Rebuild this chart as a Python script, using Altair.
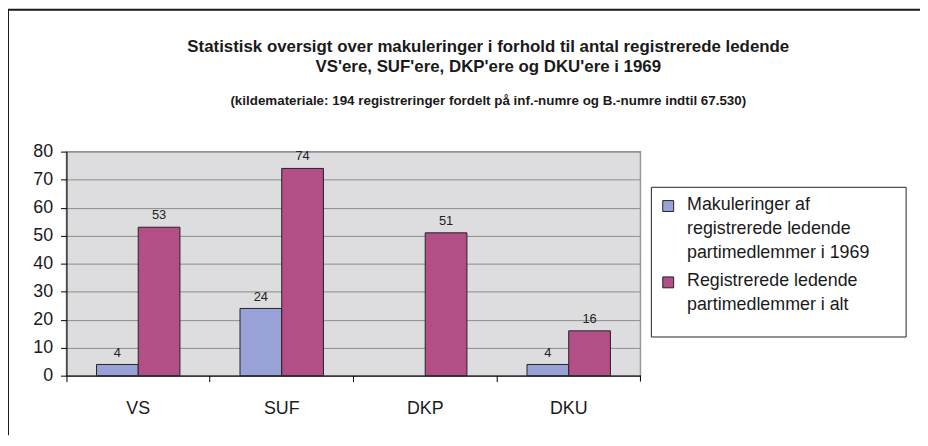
import altair as alt
import pandas as pd

categories = ["VS", "SUF", "DKP", "DKU"]
series_names = [
    "Makuleringer af|registrerede ledende|partimedlemmer i 1969",
    "Registrerede ledende|partimedlemmer i alt",
]
makuleringer = [4, 24, 0, 4]
registrerede = [53, 74, 51, 16]
colors = ["#98A2D6", "#B34F86"]
y_ticks = [0, 10, 20, 30, 40, 50, 60, 70, 80]

rows = []
for c, a, b in zip(categories, makuleringer, registrerede):
    rows.append({"kategori": c, "serie": series_names[0], "antal": a,
                 "label": str(a) if a > 0 else ""})
    rows.append({"kategori": c, "serie": series_names[1], "antal": b,
                 "label": str(b) if b > 0 else ""})
df = pd.DataFrame(rows)

W, H = 579, 226
FONT = "Liberation Sans"

x_enc = alt.X("kategori:N", sort=categories,
              scale=alt.Scale(paddingInner=0, paddingOuter=0),
              axis=alt.Axis(title=None, bandPosition=0,
                            labelFontSize=18, labelFont=FONT, labelColor="#1a1a1a",
                            labelPadding=18, labelAngle=0,
                            domainColor="#000000", tickColor="#000000",
                            tickSize=6, grid=False))
xo_enc = alt.XOffset("serie:N", sort=series_names,
                     scale=alt.Scale(paddingInner=0, paddingOuter=0.72))
y_enc = alt.Y("antal:Q", scale=alt.Scale(domain=[0, 80], nice=False),
              axis=alt.Axis(title=None, values=y_ticks, labelFontSize=18,
                            labelFont=FONT, labelColor="#1a1a1a", labelPadding=8,
                            domainColor="#000000", tickColor="#000000", tickSize=6,
                            gridColor="#8c8c8c", gridWidth=1))

bars = alt.Chart(df).mark_bar(stroke="#222222", strokeWidth=1).encode(
    x=x_enc, xOffset=xo_enc, y=y_enc,
    opacity=alt.condition("datum.antal > 0", alt.value(1), alt.value(0)),
    color=alt.Color("serie:N", sort=series_names,
                    scale=alt.Scale(domain=series_names, range=colors),
                    legend=alt.Legend(title=None, orient="none", legendX=598,
                                      legendY=36, labelExpr="split(datum.label, '|')",
                                      labelFontSize=18, labelFont=FONT,
                                      labelColor="#1a1a1a", labelLimit=400,
                                      labelBaseline="top",
                                      symbolType="M-1,0.8H1V2.8H-1Z", symbolSize=121,
                                      symbolStrokeColor="#222222", symbolOpacity=1,
                                      symbolStrokeWidth=1, rowPadding=2,
                                      labelOffset=10, padding=0)),
)

labels = alt.Chart(df).mark_text(baseline="bottom", dy=-5, fontSize=13,
                                 font=FONT, color="#222222").encode(
    x=x_enc, xOffset=xo_enc, y=y_enc, text="label:N",
)

deco = pd.DataFrame({"d": [0]})
legend_box = alt.Chart(deco).mark_rect(fill="white", stroke="#222222", strokeWidth=1).encode(
    x=alt.value(590), x2=alt.value(847), y=alt.value(36), y2=alt.value(187))
end_tick = alt.Chart(deco).mark_rule(color="#000000").encode(
    x=alt.value(W), y=alt.value(H), y2=alt.value(H + 6))
frame_left = alt.Chart(deco).mark_rule(color="#1a1a1a", strokeWidth=2).encode(
    x=alt.value(-59), y=alt.value(-143), y2=alt.value(H + 60))
frame_top = alt.Chart(deco).mark_rule(color="#1a1a1a", strokeWidth=2).encode(
    y=alt.value(-143), x=alt.value(-59), x2=alt.value(W + 300))

chart = alt.layer(frame_left, frame_top, legend_box, bars, labels, end_tick).properties(
    width=W, height=H,
    padding={"left": 59, "top": 143, "right": 282, "bottom": 60},
    autosize=alt.AutoSizeParams(type="none"),
    title=alt.TitleParams(
        text=["Statistisk oversigt over makuleringer i forhold til antal registrerede ledende",
              "VS'ere, SUF'ere, DKP'ere og DKU'ere i 1969"],
        subtitle="(kildemateriale: 194 registreringer fordelt på inf.-numre og B.-numre indtil 67.530)",
        font=FONT, fontSize=17, fontWeight="bold", color="#1a1a1a", lineHeight=20,
        subtitleFont=FONT, subtitleFontSize=13.5, subtitleFontWeight="bold",
        subtitleColor="#1a1a1a", subtitlePadding=18,
        anchor="middle", frame="group", dx=136, offset=-100),
).configure(
    style={"guide-label": {"lineHeight": 24}},
).configure_view(fill="#DDDDDF", stroke="#999999", strokeWidth=1.5)

chart.save("out.html", embed_options={"renderer": "svg", "actions": False})
